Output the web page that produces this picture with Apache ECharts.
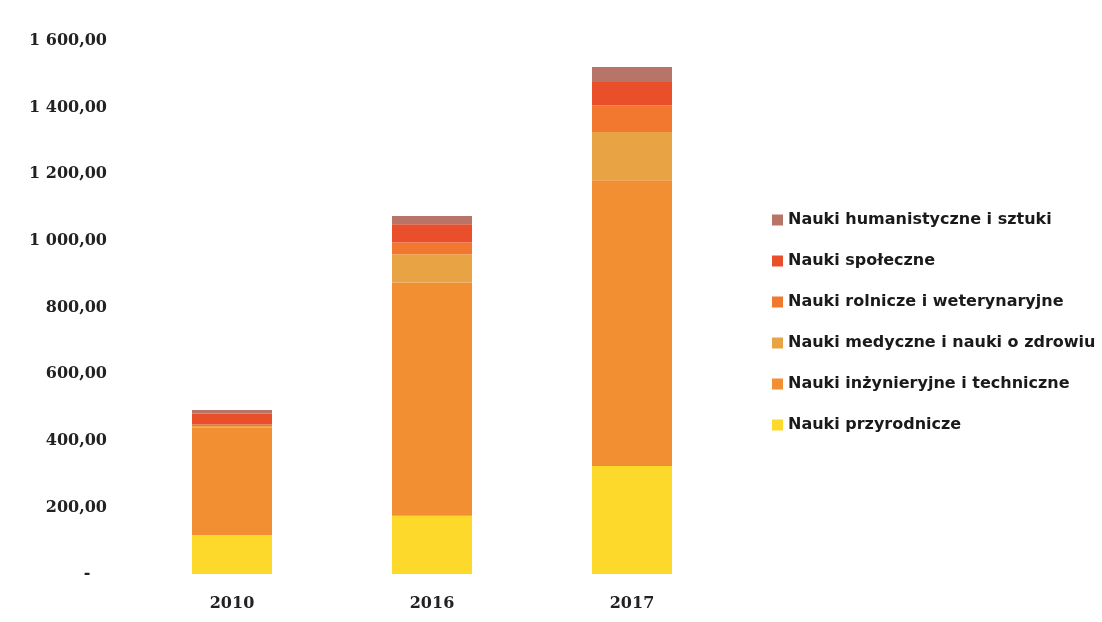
<!DOCTYPE html>
<html>
<head>
<meta charset="utf-8">
<script src="https://cdn.jsdelivr.net/npm/echarts@6/dist/echarts.min.js"></script>
<style>
html,body{margin:0;padding:0;background:#fff;}
#c{width:1102px;height:622px;}
</style>
</head>
<body>
<div id="c"></div>
<script>
const years = ['2010', '2016', '2017'];
const przyrodnicze = [117, 175, 324];
const inzynieryjne = [322, 700, 858];
const medyczne = [5, 85, 145];
const rolnicze = [5, 35, 80];
const spoleczne = [33, 55, 70];
const humanistyczne = [10, 25, 45];
const seriesNames = ['Nauki przyrodnicze', 'Nauki inżynieryjne i techniczne', 'Nauki medyczne i nauki o zdrowiu', 'Nauki rolnicze i weterynaryjne', 'Nauki społeczne', 'Nauki humanistyczne i sztuki'];
const seriesColors = ['#fcd92a', '#f18f32', '#e8a345', '#f27830', '#ea4f2b', '#b97468'];
const seriesData = [przyrodnicze, inzynieryjne, medyczne, rolnicze, spoleczne, humanistyczne];

function fmt(v) {
  if (v === 0) return '-   ';
  const s = v.toFixed(2).replace('.', ',');
  const [i, d] = s.split(',');
  return i.replace(/\B(?=(\d{3})+(?!\d))/g, ' ') + ',' + d;
}

const chart = echarts.init(document.getElementById('c'));
chart.setOption({
  animation: false,
  backgroundColor: '#fff',
  grid: { left: 132, right: 370, top: 41, bottom: 48, containLabel: false },
  legend: {
    orient: 'vertical',
    left: 772,
    top: 212,
    padding: 0,
    itemWidth: 11,
    itemHeight: 11,
    itemGap: 25,
    icon: 'rect',
    data: seriesNames.slice().reverse(),
    textStyle: { fontFamily: 'DejaVu Sans', fontWeight: 'bold', fontSize: 16, color: '#1a1a1a' }
  },
  xAxis: {
    type: 'category',
    data: years,
    axisLine: { show: false },
    axisTick: { show: false },
    axisLabel: { margin: 22, fontFamily: 'DejaVu Serif', fontWeight: 'bold', fontSize: 16, color: '#222' }
  },
  yAxis: {
    type: 'value',
    min: 0,
    max: 1600,
    interval: 200,
    axisLine: { show: false },
    axisTick: { show: false },
    splitLine: { show: false },
    axisLabel: { margin: 25, formatter: fmt, fontFamily: 'DejaVu Serif', fontWeight: 'bold', fontSize: 16, color: '#222' }
  },
  series: seriesNames.map((n, i) => ({
    name: n,
    type: 'bar',
    stack: 'total',
    barWidth: 80,
    itemStyle: { color: seriesColors[i] },
    data: seriesData[i]
  }))
});
</script>
</body>
</html>
